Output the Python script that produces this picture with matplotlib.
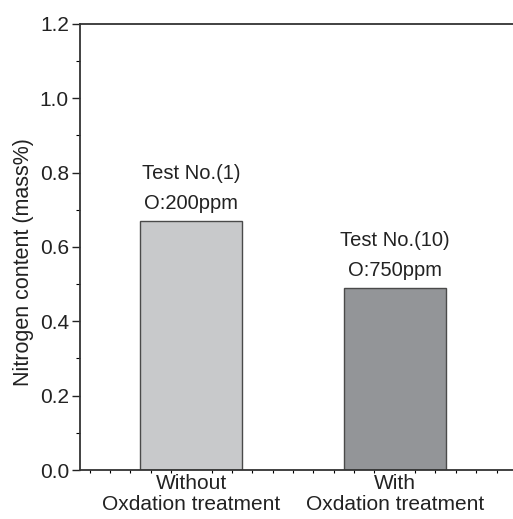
import matplotlib
matplotlib.use("Agg")
import matplotlib.pyplot as plt
from matplotlib.ticker import MultipleLocator

plt.rcParams['font.family'] = ['Liberation Sans', 'DejaVu Sans']

categories = ["Without\nOxdation treatment", "With\nOxdation treatment"]
nitrogen = [0.67, 0.49]
tests = ["Test No.(1)", "Test No.(10)"]
oxygen = ["O:200ppm", "O:750ppm"]
colors = ["#c8c9cb", "#939598"]

fig = plt.figure(figsize=(5.13, 5.19), dpi=100)
ax = fig.add_axes([0.156, 0.0944, 0.846, 0.8594])

pos = list(range(len(nitrogen)))
ax.bar(pos, nitrogen, width=0.5, color=colors, edgecolor="#4a4a4a", linewidth=1.0, zorder=2)

for p, v, t, o in zip(pos, nitrogen, tests, oxygen):
    ax.annotate(o, (p, v), xytext=(0, 12.5), textcoords="offset points",
                ha="center", va="center", fontsize=14.5, color="#222222")
    ax.annotate(t, (p, v), xytext=(0, 34), textcoords="offset points",
                ha="center", va="center", fontsize=14.5, color="#222222")

ax.set_xlim(-0.547, 1.586)
ax.set_ylim(0, 1.2)
ax.set_xticks(pos)
ax.set_xticklabels(categories, fontsize=15, color="#222222", linespacing=1.12)
ax.xaxis.set_minor_locator(MultipleLocator(0.1))
ax.tick_params(axis="x", which="major", length=0, pad=3)
ax.tick_params(axis="x", which="minor", length=2, direction="out", width=0.8)

ax.yaxis.set_major_locator(MultipleLocator(0.2))
ax.yaxis.set_minor_locator(MultipleLocator(0.1))
ax.set_yticklabels([f"{v:.1f}" for v in ax.get_yticks()])
ax.tick_params(axis="y", which="major", length=6, width=1.0, pad=2, labelsize=15, colors="#222222")
ax.tick_params(axis="y", which="minor", length=3, width=0.8)

ax.set_ylabel("Nitrogen content (mass%)", fontsize=15.5, color="#222222")
ax.yaxis.set_label_coords(-0.105, 0.466)

ax.spines["right"].set_visible(False)
for s in ["left", "top", "bottom"]:
    ax.spines[s].set_linewidth(1.3)
    ax.spines[s].set_color("#333333")

fig.savefig("out.png", dpi=100)
